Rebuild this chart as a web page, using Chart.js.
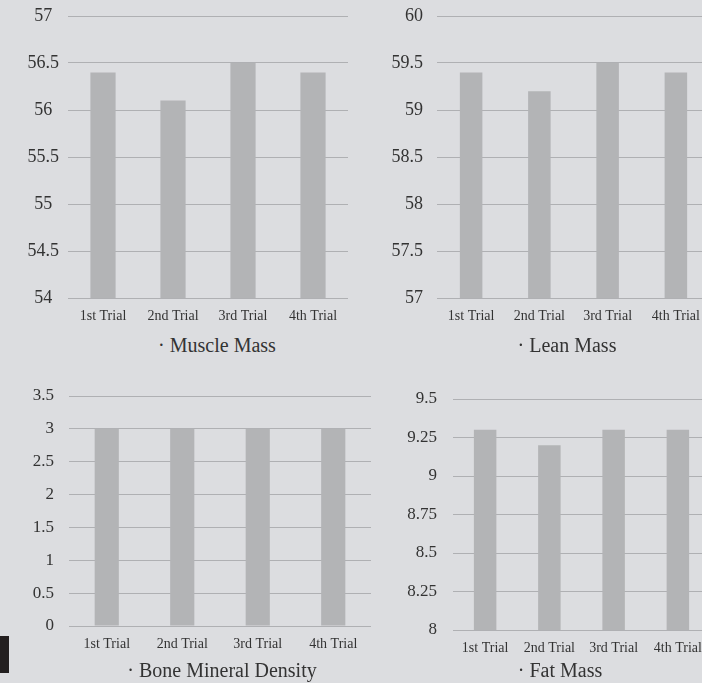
<!DOCTYPE html>
<html>
<head>
<meta charset="utf-8">
<script src="https://cdn.jsdelivr.net/npm/chart.js@4"></script>
<style>
  html, body { margin: 0; padding: 0; background: #dcdde0; overflow: hidden; }
  body { width: 702px; height: 683px; position: relative; }
  .panel { position: absolute; }
  .title {
    position: absolute; width: 300px; text-align: center;
    font-family: "Liberation Serif", "DejaVu Serif", serif; font-size: 20px;
    color: #333; line-height: 24px;
  }
  .mark { position: absolute; left: 0; top: 636px; width: 9px; height: 37px; background: #231f20; }
</style>
</head>
<body>
<div class="panel" style="left:0;top:0;width:360px;height:330px"><canvas id="muscle"></canvas></div>
<div class="panel" style="left:360px;top:0;width:350px;height:330px"><canvas id="lean"></canvas></div>
<div class="panel" style="left:0;top:360px;width:371px;height:300px"><canvas id="bone"></canvas></div>
<div class="panel" style="left:360px;top:360px;width:350px;height:300px"><canvas id="fat"></canvas></div>

<div class="title" style="left:67px;top:333px">· Muscle Mass</div>
<div class="title" style="left:417px;top:333px">· Lean Mass</div>
<div class="title" style="left:72px;top:658px">· Bone Mineral Density</div>
<div class="title" style="left:410px;top:658px">· Fat Mass</div>
<div class="mark"></div>

<script>
const trials = ['1st Trial', '2nd Trial', '3rd Trial', '4th Trial'];

const muscleMass = [56.4, 56.1, 56.5, 56.4];
const leanMass = [59.4, 59.2, 59.5, 59.4];
const boneMineralDensity = [3, 3, 3, 3];
const fatMass = [9.3, 9.2, 9.3, 9.3];

// [min, max, step] of each y axis
const muscleAxis = [54, 57, 0.5];
const leanAxis = [57, 60, 0.5];
const boneAxis = [0, 3.5, 0.5];
const fatAxis = [8, 9.5, 0.25];

const serif = '"Liberation Serif", "DejaVu Serif", serif';
const gridColor = '#afb0b3';
const barColor = '#b3b4b6';
const textColor = '#333';

function makeChart(id, values, axis, opts) {
    const ctx = document.getElementById(id).getContext('2d');
    return new Chart(ctx, {
        type: 'bar',
        data: {
            labels: trials,
            datasets: [{
                data: values,
                backgroundColor: barColor,
                borderWidth: 0,
                barPercentage: opts.bar,
                categoryPercentage: 1
            }]
        },
        options: {
            responsive: true,
            maintainAspectRatio: false,
            animation: false,
            layout: { padding: { top: opts.top, right: opts.right, left: 0, bottom: 0 } },
            plugins: { legend: { display: false }, tooltip: { enabled: false } },
            scales: {
                x: {
                    grid: { display: false },
                    border: { display: false },
                    ticks: {
                        color: textColor,
                        font: { family: serif, size: 14 },
                        padding: opts.xPad,
                        maxRotation: 0,
                        autoSkip: false
                    },
                    afterFit: (s) => { s.height = opts.xHeight }
                },
                y: {
                    min: axis[0],
                    max: axis[1],
                    // invisible tick marks push the labels away from the plot
                    // without adding extra space above the chart area
                    grid: { color: gridColor, lineWidth: 1, drawTicks: true, tickLength: opts.yGap, tickColor: 'rgba(0,0,0,0)' },
                    border: { display: false },
                    ticks: {
                        stepSize: axis[2],
                        color: textColor,
                        font: { family: serif, size: opts.ySize },
                        padding: 0,
                        crossAlign: opts.align,
                        callback: (v) => String(+v.toFixed(2))
                    },
                    afterFit: (s) => { s.width = opts.yWidth }
                }
            }
        }
    });
}

makeChart('muscle', muscleMass, muscleAxis,
    { bar: 0.36, top: 16, right: 12, xHeight: 32, yWidth: 68, xPad: 2, ySize: 18, yGap: 9, align: 'center' });
makeChart('lean', leanMass, leanAxis,
    { bar: 0.33, top: 16, right: 0, xHeight: 32, yWidth: 77, xPad: 2, ySize: 18, yGap: 14, align: 'near' });
makeChart('bone', boneMineralDensity, boneAxis,
    { bar: 0.32, top: 36, right: 0, xHeight: 34, yWidth: 69, xPad: 2, ySize: 17, yGap: 15, align: 'near' });
makeChart('fat', fatMass, fatAxis,
    { bar: 0.35, top: 39, right: 0, xHeight: 30, yWidth: 93, xPad: 2, ySize: 17, yGap: 16, align: 'near' });
</script>
</body>
</html>
